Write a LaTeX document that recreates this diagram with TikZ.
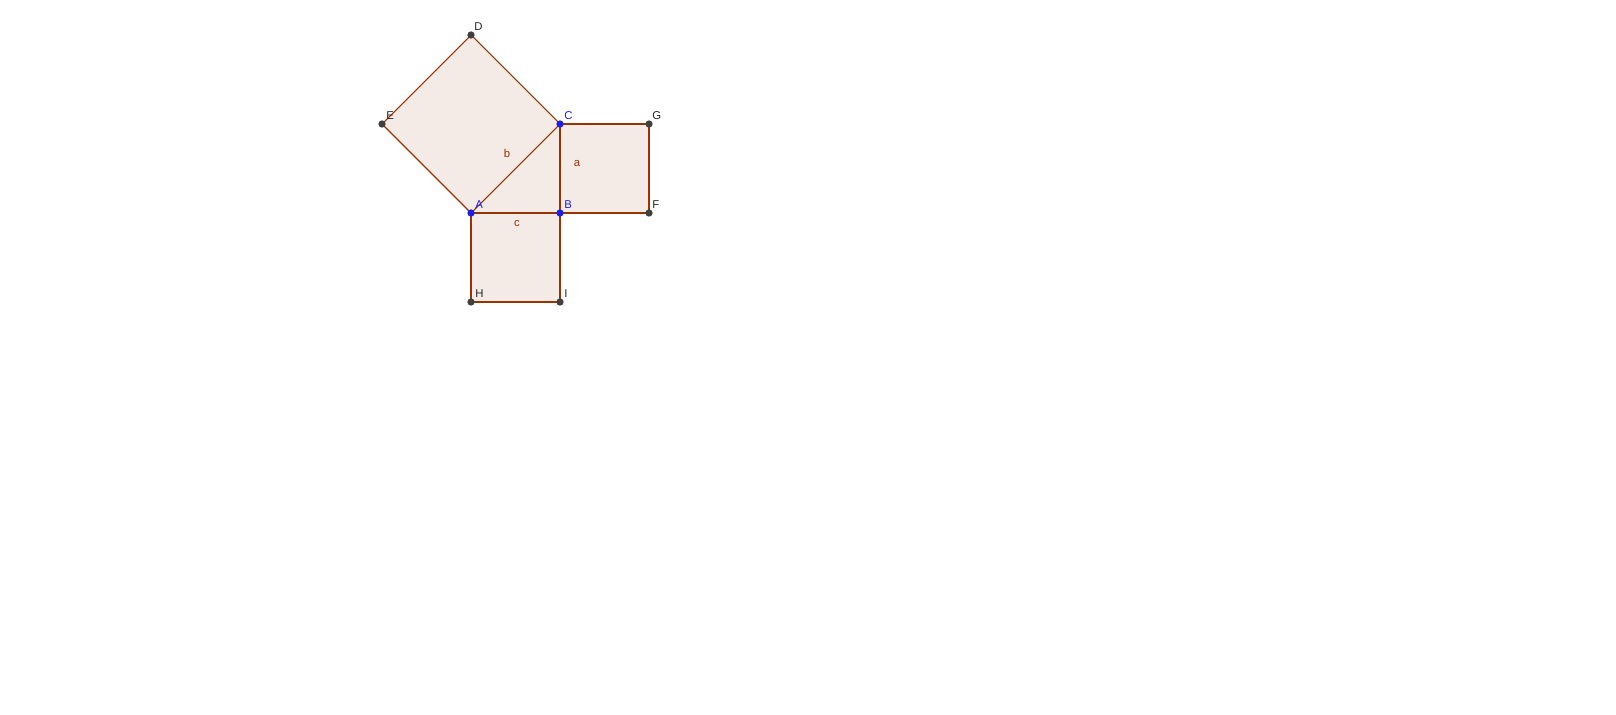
\documentclass[tikz,border=0pt]{standalone}
\usepackage{fontspec}
\setmainfont{Liberation Sans}
\definecolor{side}{RGB}{153,51,0}
\definecolor{face}{RGB}{245,235,230}
\definecolor{ptgray}{RGB}{64,64,64}
\definecolor{ptblue}{RGB}{30,30,235}
\tikzset{ pt/.style={draw=none, fill=ptgray, circle, inner sep=0pt, minimum size=5.5pt},
          free/.style={pt, fill=ptblue},
          lbl/.style={font=\fontsize{8.5}{10}\selectfont, inner sep=0pt, anchor=base west, text=black!85},
          sidelbl/.style={font=\fontsize{8.5}{10}\selectfont, inner sep=0pt, text=side} }

\begin{document}
\begin{tikzpicture}[x=0.75pt, y=-0.75pt, every edge/.style={draw=side, line width=0.8pt}]
        \useasboundingbox (0,0) rectangle (1616,714);

        % faces
        \coordinate (a) at (471,213);
        \coordinate (b) at (560,213);
        \coordinate (c) at (560,124);
        \coordinate (d) at (471,35);
        \coordinate (e) at (382,124);
        \coordinate (f) at (649,213);
        \coordinate (g) at (649,124);
        \coordinate (h) at (471,302);
        \coordinate (i) at (560,302);
        \fill[face] (a) -- (c) -- (d) -- (e) -- cycle;
        \fill[face] (b) -- (f) -- (g) -- (c) -- cycle;
        \fill[face] (a) -- (b) -- (i) -- (h) -- cycle;
        \fill[face] (a) -- (b) -- (c) -- cycle;

        \path (a) edge (b)
              (b) edge (c)
              (c) edge (a)
              (c) edge (d)
              (d) edge (e)
              (e) edge (a)
              (b) edge (f)
              (f) edge (g)
              (g) edge (c)
              (a) edge (h)
              (h) edge (i)
              (i) edge (b);

        % points
        \node[free] (A) at (a) {};
        \node[free] (B) at (b) {};
        \node[free] (C) at (c) {};
        \node[pt] (D) at (d) {};
        \node[pt] (E) at (e) {};
        \node[pt] (F) at (f) {};
        \node[pt] (G) at (g) {};
        \node[pt] (H) at (h) {};
        \node[pt] (I) at (i) {};

        \node[lbl, text=ptblue] (lA) at ([shift={(4,-5)}]a) {A};
        \node[lbl, text=ptblue] (lB) at ([shift={(4,-5)}]b) {B};
        \node[lbl, text=ptblue] (lC) at ([shift={(4,-5)}]c) {C};
        \node[lbl] (lD) at ([shift={(3,-5)}]d) {D};
        \node[lbl] (lE) at ([shift={(4,-5)}]e) {E};
        \node[lbl] (lF) at ([shift={(3,-5)}]f) {F};
        \node[lbl] (lG) at ([shift={(3,-5)}]g) {G};
        \node[lbl] (lH) at ([shift={(4,-5)}]h) {H};
        \node[lbl] (lI) at ([shift={(4,-5)}]i) {I};

        \node[sidelbl] (la) at (577,164) {a};
        \node[sidelbl] (lb) at (507,153) {b};
        \node[sidelbl] (lc) at (517,224) {c};
    \end{tikzpicture}
\end{document}
